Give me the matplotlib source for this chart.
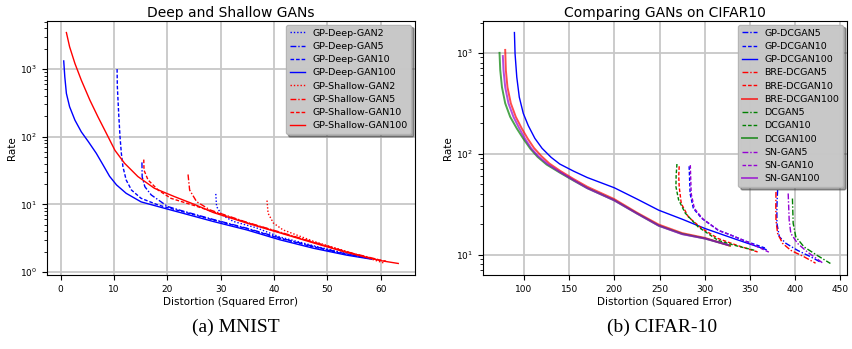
import matplotlib
matplotlib.use('Agg')
import matplotlib.pyplot as plt

plt.rcParams['lines.dashed_pattern'] = [2.6, 1.4]
plt.rcParams['lines.dashdot_pattern'] = [4.2, 1.4, 1.0, 1.4]
plt.rcParams['lines.dotted_pattern'] = [1.0, 1.4]

# ---- MNIST: deep / shallow GP-GANs ----
deep2_x = [29.1, 29.25, 30.2, 32.4, 36.75, 41.1, 47.4, 53.6, 57.5]
deep2_y = [14.3, 9.3, 7.0, 5.6, 4.5, 3.3, 2.45, 1.87, 1.62]
deep5_x = [15.26, 15.3, 15.8, 17.0, 20.1, 22.4, 28.6, 34.9, 41.1, 47.4, 53.6, 57.0]
deep5_y = [41.8, 25.6, 18.3, 13.8, 9.3, 8.2, 6.0, 4.45, 3.2, 2.4, 1.85, 1.65]
deep10_x = [10.6, 10.65, 10.9, 11.15, 11.4, 11.7, 12.3, 13.3, 15.1, 18.3, 22.4, 28.6, 34.9, 41.1, 47.4, 53.6, 57.8]
deep10_y = [1000, 550, 220, 100, 57, 36, 23, 16.3, 12.3, 9.8, 8.0, 5.9, 4.4, 3.15, 2.35, 1.82, 1.6]
deep100_x = [0.6, 0.8, 1.1, 1.7, 2.7, 3.9, 5.2, 6.7, 8.0, 9.2, 10.5, 12.3, 15.1, 20.1, 22.4, 28.6, 34.9, 41.1, 47.4, 53.6, 58.3]
deep100_y = [1320, 770, 437, 278, 176, 118, 85, 57, 38, 26, 19.4, 14.6, 10.9, 8.5, 7.6, 5.6, 4.2, 3.0, 2.25, 1.78, 1.55]

shallow2_x = [38.7, 38.9, 39.9, 41.7, 47.4, 53.6, 60.5]
shallow2_y = [11.4, 7.4, 5.3, 4.2, 2.85, 2.02, 1.37]
shallow5_x = [23.9, 24.2, 25.5, 28.0, 34.9, 41.1, 47.4, 53.6, 60.0]
shallow5_y = [27.7, 16.3, 11.0, 8.3, 5.45, 3.9, 2.78, 2.0, 1.5]
shallow10_x = [15.6, 15.65, 16.4, 18.3, 20.7, 25.1, 28.6, 34.9, 41.1, 47.4, 53.6, 59.0, 61.0]
shallow10_y = [46, 32, 23, 16.3, 12.3, 9.6, 7.8, 5.4, 3.85, 2.75, 1.98, 1.55, 1.45]
shallow100_x = [1.1, 1.7, 2.7, 3.9, 5.5, 7.0, 8.6, 10.2, 12.0, 14.5, 17.6, 21.4, 25.1, 28.6, 34.9, 41.1, 47.4, 53.6, 59.9, 63.3]
shallow100_y = [3470, 2140, 1210, 685, 348, 198, 112, 63, 40.6, 25.8, 17.3, 13.0, 10.0, 7.6, 5.3, 3.8, 2.7, 1.95, 1.48, 1.34]

# ---- CIFAR10 ----
gp5_x = [380.6, 379.8, 379.8, 382.5, 389.8, 402.6, 417.1, 428.1]
gp5_y = [43.6, 30.0, 20.4, 15.0, 12.9, 11.0, 9.5, 8.4]
gp10_x = [282.7, 283.8, 287.4, 296.5, 314.8, 325.8, 345, 367.8]
gp10_y = [75, 40, 28.6, 22.9, 17.4, 16.0, 13.6, 11.5]
gp100_x = [89.4, 90.1, 92.0, 94.8, 99.2, 104.7, 112, 120, 130, 139.5, 155, 170, 199.7, 225, 249.1, 275, 300.3, 335, 367.8]
gp100_y = [1590, 980, 575, 363, 251, 190, 142, 113, 92, 79, 67, 58, 46, 35.5, 27.5, 22.4, 18.1, 14.1, 11.2]

bre5_x = [378.8, 378.6, 378.8, 380.6, 386.1, 395.2, 409.8, 422.6]
bre5_y = [41.7, 30.0, 21.8, 16.2, 12.9, 11.0, 9.5, 8.2]
bre10_x = [271.7, 271.2, 271.7, 274, 282, 296.5, 314.8, 336, 358.5]
bre10_y = [75, 60, 47, 32, 23.5, 18.2, 14.4, 12.3, 10.6]
bre100_x = [79.2, 79.9, 81.7, 85.4, 90.9, 97.5, 104.1, 111, 119, 128, 139.5, 155, 170, 199.7, 225, 249.1, 275, 300.3, 328]
bre100_y = [1070, 676, 457, 316, 232, 178, 141, 114, 95, 80, 68, 56, 47, 35.5, 26, 19.8, 16.3, 14.6, 12.2]

dc5_x = [397.0, 397.8, 400.7, 409.8, 424.4, 439.0]
dc5_y = [35.9, 20.4, 15.0, 11.9, 9.8, 8.15]
dc10_x = [269.2, 268.3, 268.1, 271, 278.3, 292.9, 314.8, 335, 356.9]
dc10_y = [79, 60, 47, 35, 25.8, 18.7, 13.8, 12.2, 10.9]
dc100_x = [72.9, 73.7, 75.6, 79.2, 84.7, 92.0, 99.2, 107, 115, 125, 139.5, 155, 170, 199.7, 225, 249.1, 275, 300.3, 327.6]
dc100_y = [1000, 676, 457, 316, 232, 178, 141, 112, 93, 78, 65, 54, 45.5, 34.5, 25.5, 19.3, 16, 14.4, 12.3]

sn5_x = [392.3, 393.4, 395.2, 402.6, 413.5, 430.0]
sn5_y = [40.3, 21.9, 16.2, 12.9, 10.6, 8.3]
sn10_x = [284, 285, 288.5, 298, 316, 327, 348, 371.5]
sn10_y = [77, 40, 28.6, 22.5, 17.2, 15.8, 13.2, 10.5]
sn100_x = [76.6, 77.3, 79.2, 82.8, 88.3, 94.8, 101.1, 108, 116, 126, 139.5, 155, 170, 199.7, 225, 249.1, 275, 300.3, 326]
sn100_y = [930, 676, 457, 316, 232, 178, 141, 113, 94, 79, 66, 54.5, 45.5, 34.5, 25.5, 19.3, 15.9, 14.4, 12.4]

fig = plt.figure(figsize=(8.53, 3.49), dpi=100)
ax1 = fig.add_axes([0.0551, 0.212, 0.4314, 0.7278])
ax2 = fig.add_axes([0.5662, 0.212, 0.4267, 0.7278])

lw = 1.0
ax1.plot(deep2_x, deep2_y, ':', color='blue', lw=lw, label='GP-Deep-GAN2')
ax1.plot(deep5_x, deep5_y, '-.', color='blue', lw=lw, label='GP-Deep-GAN5')
ax1.plot(deep10_x, deep10_y, '--', color='blue', lw=lw, label='GP-Deep-GAN10')
ax1.plot(deep100_x, deep100_y, '-', color='blue', lw=lw, label='GP-Deep-GAN100')
ax1.plot(shallow2_x, shallow2_y, ':', color='red', lw=lw, label='GP-Shallow-GAN2')
ax1.plot(shallow5_x, shallow5_y, '-.', color='red', lw=lw, label='GP-Shallow-GAN5')
ax1.plot(shallow10_x, shallow10_y, '--', color='red', lw=lw, label='GP-Shallow-GAN10')
ax1.plot(shallow100_x, shallow100_y, '-', color='red', lw=lw, label='GP-Shallow-GAN100')

ax2.plot(gp5_x, gp5_y, '-.', color='blue', lw=lw, label='GP-DCGAN5')
ax2.plot(gp10_x, gp10_y, '--', color='blue', lw=lw, label='GP-DCGAN10')
ax2.plot(gp100_x, gp100_y, '-', color='blue', lw=lw, label='GP-DCGAN100')
ax2.plot(bre5_x, bre5_y, '-.', color='red', lw=lw, label='BRE-DCGAN5')
ax2.plot(bre10_x, bre10_y, '--', color='red', lw=lw, label='BRE-DCGAN10')
ax2.plot(bre100_x, bre100_y, '-', color='red', lw=1.4, alpha=0.7, label='BRE-DCGAN100')
ax2.plot(dc5_x, dc5_y, '-.', color='green', lw=lw, label='DCGAN5')
ax2.plot(dc10_x, dc10_y, '--', color='green', lw=lw, label='DCGAN10')
ax2.plot(dc100_x, dc100_y, '-', color='green', lw=1.4, alpha=0.7, label='DCGAN100')
ax2.plot(sn5_x, sn5_y, '-.', color='darkviolet', lw=lw, label='SN-GAN5')
ax2.plot(sn10_x, sn10_y, '--', color='darkviolet', lw=lw, label='SN-GAN10')
ax2.plot(sn100_x, sn100_y, '-', color='darkviolet', lw=1.4, alpha=0.7, label='SN-GAN100')

ax2.set_xticks(range(100, 451, 50))

for ax, title in [(ax1, 'Deep and Shallow GANs'), (ax2, 'Comparing GANs on CIFAR10')]:
    ax.set_yscale('log')
    ax.grid(True, color='0.78', lw=1.3)
    ax.set_axisbelow(True)
    ax.set_title(title, fontsize=10, pad=3)
    ax.set_xlabel('Distortion (Squared Error)', fontsize=7.5, labelpad=2)
    ax.set_ylabel('Rate', fontsize=7.5, labelpad=2)
    ax.tick_params(labelsize=6.5)
    leg = ax.legend(loc='upper right', fontsize=6.8, shadow=True, facecolor='#cbcbcb',
                    edgecolor='0.7', framealpha=0.95, handlelength=1.6,
                    labelspacing=0.45, borderaxespad=0.4)

fig.text(0.277, 0.063, '(a) MNIST', fontsize=14, family='Liberation Serif', ha='center', va='center')
fig.text(0.776, 0.063, '(b) CIFAR-10', fontsize=14, family='Liberation Serif', ha='center', va='center')

fig.savefig('out.png', dpi=100)
